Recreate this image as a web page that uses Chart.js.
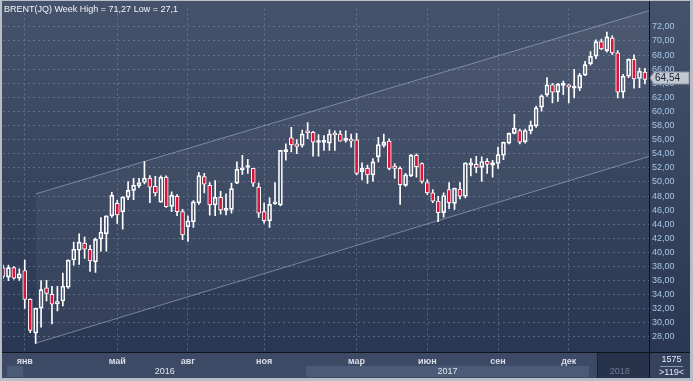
<!DOCTYPE html>
<html><head><meta charset="utf-8">
<script src="https://cdn.jsdelivr.net/npm/chart.js@4/dist/chart.umd.min.js"></script>
<style>html,body{margin:0;padding:0;background:#2f3c57;overflow:hidden}canvas{display:block}</style>
</head><body>
<canvas id="c" width="693" height="381"></canvas>
<script>
const titleText = 'BRENT(JQ) Week High = 71,27 Low = 27,1';
const monthLabels = ['янв','май','авг','ноя','мар','июн','сен','дек'];
const monthIdx = [4,21,34,48,65,78,91,104];
const yearLabels = ['2016','2017','2018'];
const yearStartIdx = [4,56,108];
const yTickValues = [28,30,32,34,36,38,40,42,44,46,48,50,52,54,56,58,60,62,64,66,68,70,72];
const counterTop = '1575';
const counterBottom = '>119<';

const openP = [37.80,36.50,37.85,36.36,37.43,33.34,28.56,32.09,34.97,34.04,32.74,33.10,35.06,38.92,40.31,41.33,40.45,38.68,41.93,42.63,
45.19,46.95,45.74,47.83,48.80,49.46,49.92,50.53,49.37,47.14,50.67,46.54,47.97,45.79,43.65,44.35,47.04,50.76,49.50,46.72,
47.83,45.97,46.11,49.83,51.69,52.05,51.92,49.27,45.79,44.49,46.90,46.72,54.30,56.24,55.40,55.17,57.26,57.03,55.60,55.62,
55.50,56.94,56.80,55.90,56.05,55.96,51.46,51.92,51.00,53.55,55.17,55.78,52.25,51.92,49.50,50.85,53.78,52.60,49.92,48.44,
47.28,45.65,48.90,46.95,48.99,47.97,52.38,52.48,52.06,52.94,52.38,52.62,53.78,55.50,56.89,57.30,55.70,57.26,57.96,60.61,
62.37,63.76,62.74,63.70,63.76,63.30,63.30,65.16,66.78,67.85,69.90,68.64,70.41,68.32,62.74,65.02,67.39,64.68,65.60];
const highP = [38.20,38.20,38.00,37.66,38.90,33.40,32.10,35.99,36.03,35.20,35.20,37.06,38.95,41.47,42.63,42.17,41.00,42.03,44.95,45.19,
48.53,47.40,47.88,50.06,50.50,50.50,52.90,50.90,50.80,50.85,50.85,48.58,48.20,46.11,45.19,47.37,51.36,51.22,49.92,50.20,
48.67,48.30,49.83,52.85,53.78,53.20,51.92,49.83,47.04,47.74,49.92,54.47,55.40,57.73,56.01,57.35,58.42,57.17,56.70,56.56,
57.40,57.26,57.26,57.26,56.80,56.89,52.70,52.40,53.30,56.33,56.80,56.10,52.60,52.15,51.22,53.90,54.00,52.71,50.29,48.90,
47.97,48.44,49.92,49.13,49.92,52.71,53.31,53.64,53.55,53.31,53.08,54.93,55.64,56.95,59.58,57.50,57.50,58.65,60.75,62.37,
64.79,64.00,64.00,64.32,63.80,65.99,65.39,67.11,68.50,70.17,70.27,71.27,70.73,68.64,65.25,67.48,68.04,66.16,66.10];
const lowP = [36.30,36.00,36.20,36.04,32.04,28.60,27.10,29.39,33.10,29.86,31.70,32.40,34.90,38.20,38.30,39.15,37.29,37.15,40.17,40.17,
44.95,44.10,43.30,47.50,47.50,49.20,49.70,47.04,48.00,47.14,46.40,45.79,45.20,41.79,41.56,43.56,46.80,48.44,45.28,45.20,
45.42,45.32,45.56,49.74,51.08,51.20,49.36,44.95,44.16,43.56,46.81,46.58,53.08,54.24,54.01,54.94,56.15,53.64,53.64,54.47,
54.47,54.47,55.78,55.64,54.94,50.99,50.30,49.80,50.06,52.85,54.94,51.69,50.50,46.80,49.37,50.76,50.67,49.83,48.20,47.04,
44.35,45.00,46.20,46.11,47.60,47.74,50.85,51.32,50.06,51.22,50.67,51.92,53.17,55.40,56.80,55.40,55.50,56.80,57.73,60.05,
62.14,61.21,61.44,62.37,61.21,61.91,62.93,65.06,66.55,67.48,68.78,68.41,68.04,61.91,61.91,64.79,63.30,63.38,63.90];
const closeP = [36.60,37.85,36.36,36.96,33.34,28.93,32.09,34.73,34.18,32.64,33.00,35.20,38.90,40.45,41.47,40.45,38.78,41.84,42.86,45.19,
48.11,45.32,47.88,48.80,49.50,49.92,50.53,49.27,48.44,50.67,46.49,48.10,45.79,42.49,44.49,47.18,50.90,49.69,46.72,47.83,
46.02,46.11,49.04,51.78,52.01,52.15,49.83,45.56,44.49,46.81,47.18,54.47,54.40,55.26,55.03,56.80,56.94,55.64,55.68,55.66,
56.80,56.66,55.78,56.01,55.78,51.22,51.92,51.00,52.85,55.30,55.64,51.92,51.92,49.60,50.99,53.78,52.15,50.06,48.44,47.28,
45.65,48.07,47.04,49.13,47.97,52.71,52.71,52.06,52.90,52.48,52.76,53.87,55.64,56.89,57.63,55.64,57.30,58.05,60.51,62.23,
63.76,62.74,63.86,63.80,63.44,63.39,65.16,66.64,67.81,69.90,68.87,70.59,68.32,62.74,65.02,67.39,64.60,65.70,64.54];

const channelX = [6, 118.75];
const channelUpper = [48.30, 74.28];
const channelLower = [27.12, 53.62];

const FONT = '"Liberation Sans", Arial, sans-serif';
Chart.defaults.font.family = FONT;

const idx = openP.map((_, i) => i);
const bodyData = idx.map(i => ({x: i, y: [openP[i], closeP[i]]}));
const upWick = idx.map(i => ({x: i, y: [Math.max(openP[i], closeP[i]), highP[i]]}));
const loWick = idx.map(i => ({x: i, y: [lowP[i], Math.min(openP[i], closeP[i])]}));
const bodyFill = idx.map(i => closeP[i] >= openP[i] ? 'rgba(0,0,0,0)' : '#dc143c');

const decor = {
  id: 'decor',
  beforeDraw(chart) {
    const {ctx, chartArea: a, scales: {x}} = chart;
    const W = chart.width, H = chart.height;
    ctx.save();
    const g = ctx.createLinearGradient(0, a.top, 0, a.bottom);
    g.addColorStop(0, '#44526b');
    g.addColorStop(1, '#2a3752');
    ctx.fillStyle = g;
    ctx.fillRect(0, 0, W, a.bottom);
    ctx.fillStyle = '#3c4a65';
    ctx.fillRect(0, a.bottom, W, H - a.bottom);
    // year bands
    ctx.fillStyle = '#4b5a76';
    ctx.fillRect(7, 366, x.getPixelForValue(yearStartIdx[0]) - 1.5 - 7, 11);
    const b17 = x.getPixelForValue(yearStartIdx[1]) - 1.5;
    const e17 = x.getPixelForValue(yearStartIdx[2]) - 1.5;
    ctx.fillRect(b17, 366, e17 - b17, 11);
    // 2018 box
    const b18 = x.getPixelForValue(yearStartIdx[2] + 1) + 1;
    ctx.fillStyle = '#27334b';
    ctx.fillRect(b18, a.bottom + 1, a.right - b18, 25);
    ctx.fillStyle = '#1d2638';
    ctx.fillRect(b18, a.bottom + 1, 1, 25);
    // right corner box
    ctx.fillStyle = '#34425d';
    ctx.fillRect(a.right, a.bottom, W - a.right, H - a.bottom);
    ctx.restore();
  },
  afterDraw(chart) {
    const {ctx, chartArea: a, scales: {x, y}} = chart;
    const W = chart.width, H = chart.height;
    ctx.save();
    // separators
    ctx.fillStyle = '#0d121b';
    ctx.fillRect(Math.round(a.right), 0, 1, H);
    ctx.fillRect(0, Math.round(a.bottom), W, 1);
    // frame
    ctx.fillStyle = '#b8bdc6';
    ctx.fillRect(0, 0, W, 1);
    ctx.fillRect(0, 0, 2, H);
    ctx.fillRect(W - 3, 0, 3, H);
    ctx.fillRect(0, H - 3, W, 3);
    // title
    ctx.font = '9px ' + FONT;
    ctx.fillStyle = '#f2f4f8';
    ctx.textBaseline = 'alphabetic';
    ctx.textAlign = 'left';
    ctx.fillText(titleText, 4, 12);
    // years
    ctx.textAlign = 'center';
    ctx.textBaseline = 'middle';
    const bounds = [x.getPixelForValue(yearStartIdx[0]), x.getPixelForValue(yearStartIdx[1]), x.getPixelForValue(yearStartIdx[2]), a.right];
    ctx.fillStyle = '#dfe4ec';
    ctx.fillText(yearLabels[0], (bounds[0] + bounds[1]) / 2 - 1.5, 372);
    ctx.fillText(yearLabels[1], (bounds[1] + bounds[2]) / 2 - 1.5, 372);
    ctx.fillStyle = '#6c7a92';
    ctx.fillText(yearLabels[2], (bounds[2] + bounds[3]) / 2, 372);
    // counter
    ctx.fillStyle = '#e2e8f0';
    ctx.fillText(counterTop, 671.5, 360);
    ctx.fillText(counterBottom, 671.5, 372.5);
    ctx.fillStyle = '#8a96aa';
    ctx.fillRect(660, 366, 23, 1);
    // price marker
    const last = closeP[closeP.length - 1];
    const py = Math.round(y.getPixelForValue(last)) - 1;
    ctx.fillStyle = '#c3c7cf';
    ctx.strokeStyle = '#8e96a4';
    ctx.beginPath();
    ctx.moveTo(650, py);
    ctx.lineTo(654, py - 6);
    ctx.lineTo(689, py - 6);
    ctx.lineTo(689, py + 6);
    ctx.lineTo(654, py + 6);
    ctx.closePath();
    ctx.fill();
    ctx.stroke();
    ctx.fillStyle = '#1a2335';
    ctx.textAlign = 'left';
    ctx.textBaseline = 'middle';
    ctx.font = '10px ' + FONT;
    ctx.fillText(last.toFixed(2).replace('.', ','), 655, py + 0.5);
    ctx.restore();
  }
};

new Chart(document.getElementById('c'), {
  type: 'bar',
  data: {
    datasets: [
      {type: 'line', data: channelX.map((v, i) => ({x: v, y: channelUpper[i]})), borderColor: 'rgba(175,188,210,0.55)', borderWidth: 1, pointRadius: 0, fill: false, order: 10},
      {type: 'line', data: channelX.map((v, i) => ({x: v, y: channelLower[i]})), borderColor: 'rgba(175,188,210,0.55)', borderWidth: 1, pointRadius: 0, fill: '-1', backgroundColor: 'rgba(255,255,255,0.045)', order: 9},
      {type: 'bar', data: upWick, backgroundColor: '#ffffff', barThickness: 1, grouped: false, order: 3},
      {type: 'bar', data: loWick, backgroundColor: '#ffffff', barThickness: 1, grouped: false, order: 3},
      {type: 'bar', data: bodyData, backgroundColor: bodyFill, borderColor: '#ffffff', borderWidth: 1, borderSkipped: false, barThickness: 4, minBarLength: 2, grouped: false, order: 1}
    ]
  },
  options: {
    responsive: false,
    animation: false,
    devicePixelRatio: 1,
    layout: {padding: {left: 3, top: 2, right: 0, bottom: 0}},
    plugins: {legend: {display: false}, tooltip: {enabled: false}, title: {display: false}},
    scales: {
      x: {
        type: 'linear', position: 'bottom', min: 0, max: 118.75, offset: false,
        grid: {offset: false, color: 'rgba(150,165,195,0.42)', lineWidth: 1, drawTicks: false},
        border: {display: false, dash: [2, 3]},
        afterBuildTicks: s => { s.ticks = monthIdx.map(v => ({value: v})); },
        afterFit: s => { s.height = 29; },
        ticks: {autoSkip: false, maxRotation: 0, padding: 4, color: '#d8dee8', font: {size: 9, weight: 'bold'},
          callback: v => monthLabels[monthIdx.indexOf(v)]}
      },
      y: {
        type: 'linear', position: 'right', min: 25.87, max: 74.62,
        grid: {color: 'rgba(150,165,195,0.42)', lineWidth: 1, drawTicks: false},
        border: {display: false, dash: [2, 3]},
        afterBuildTicks: s => { s.ticks = yTickValues.map(v => ({value: v})); },
        afterFit: s => { s.width = 44; },
        ticks: {padding: 3, color: '#a9c5e6', font: {size: 9},
          callback: v => Number(v).toFixed(2).replace('.', ',')}
      }
    }
  },
  plugins: [decor]
});
</script>
</body></html>
